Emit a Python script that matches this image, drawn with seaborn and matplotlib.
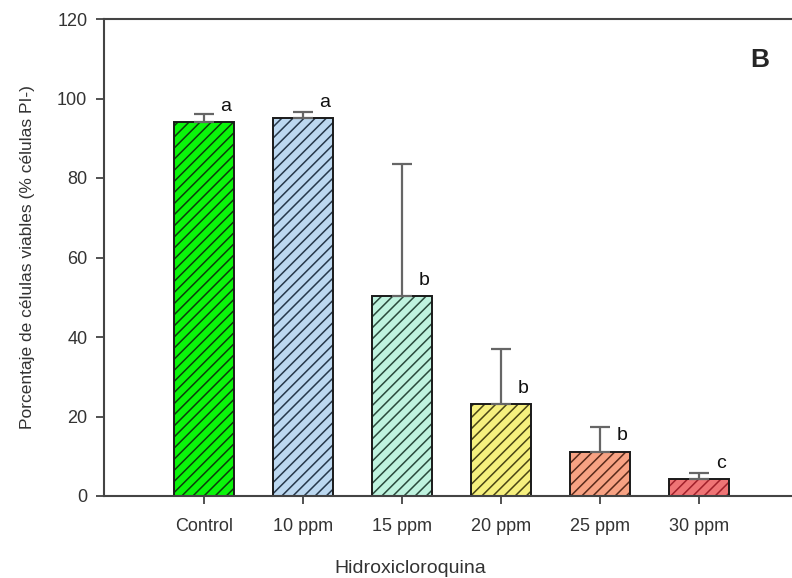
import matplotlib
matplotlib.use("Agg")
import matplotlib.pyplot as plt
import matplotlib.patches as mpatches
import seaborn as sns
import pandas as pd
import numpy as np

categories = ["Control", "10 ppm", "15 ppm", "20 ppm", "25 ppm", "30 ppm"]
means = [94.1, 95.0, 50.2, 23.1, 11.1, 4.3]
errors = [2.0, 1.6, 33.3, 13.9, 6.3, 1.5]
letters = ["a", "a", "b", "b", "b", "c"]
colors = ["#0af50a", "#bcd8f0", "#bff3df", "#f6f07e", "#f7a283", "#ef7475"]
hatch_colors = ["#0b3d0b", "#26384a", "#2a4a3c", "#4a4514", "#5a2a1a", "#a0202a"]
yticks = [0, 20, 40, 60, 80, 100, 120]

sns.set_theme(style="ticks")
plt.rcParams['font.family'] = ['Liberation Sans', 'DejaVu Sans']
plt.rcParams['hatch.linewidth'] = 1.1

df = pd.DataFrame({"cat": categories, "val": means})

fig = plt.figure(figsize=(7.92, 5.78), dpi=100)
ax = fig.add_axes([104/792, 82/578, 1 - 104/792, (496-19)/578])

sns.barplot(data=df, x="cat", y="val", hue="cat", palette=colors, legend=False,
            width=0.6, saturation=1, linewidth=0, ax=ax, errorbar=None)
for p, hc in zip(ax.patches, hatch_colors):
    p.set_hatch("///")
    p.set_edgecolor(hc)
    p.set_linewidth(0)
    outline = mpatches.Rectangle(p.get_xy(), p.get_width(), p.get_height(),
                                 fill=False, edgecolor="#1a1a1a", linewidth=1.4, zorder=p.get_zorder() + 0.1)
    ax.add_patch(outline)

xs = np.arange(len(categories))
ax.errorbar(xs, means, yerr=[np.zeros(len(means)), errors], fmt="none",
            ecolor="#666666", elinewidth=1.6, capsize=7, capthick=1.6, zorder=3)

for x, m, l in zip(xs, means, letters):
    ax.text(x + 0.22, m + 4, l, ha="center", va="center", fontsize=14, color="#111111")

ax.set_xlim(-1.01, 5.94)
ax.set_ylim(0, 120)
ax.set_yticks(yticks)
ax.set_yticklabels([str(t) for t in yticks])
ax.set_xlabel("Hidroxicloroquina", fontsize=14, color="#333333", labelpad=16)
ax.xaxis.set_label_coords(0.445, -0.135)
ax.set_ylabel("Porcentaje de células viables (% células PI-)", fontsize=12.5, color="#333333", labelpad=16)
ax.tick_params(axis="both", labelsize=13, colors="#333333", direction="out", length=6, width=1.2)
ax.tick_params(axis="x", pad=10)
ax.tick_params(axis="y", pad=6)

for s in ["left", "top", "bottom"]:
    ax.spines[s].set_color("#444444")
    ax.spines[s].set_linewidth(1.5)
ax.spines["right"].set_visible(False)

fig.text(760/792, 1 - 60/578, "B", fontsize=19, fontweight="bold", ha="center", va="center")

fig.savefig("out.png", dpi=100)
